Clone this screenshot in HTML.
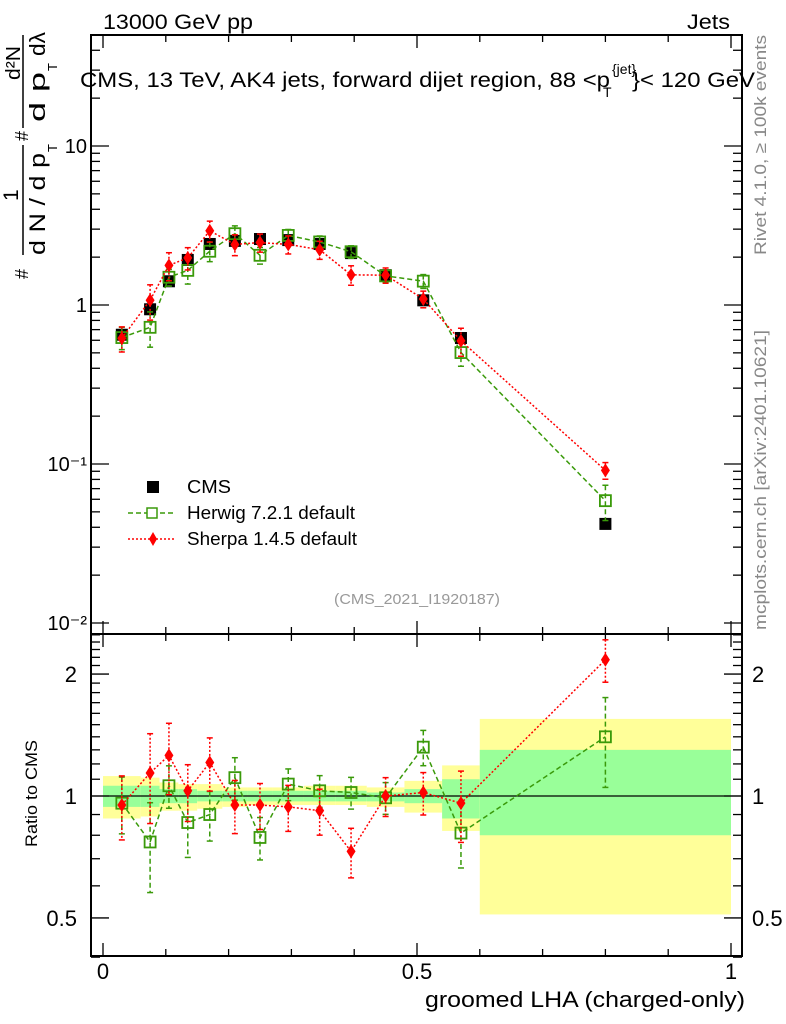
<!DOCTYPE html>
<html><head><meta charset="utf-8"><style>
body{margin:0;background:#fff}
svg{display:block;font-family:"Liberation Sans",sans-serif}
</style></head><body>
<svg id="chart" width="786" height="1024" viewBox="0 0 786 1024" xmlns="http://www.w3.org/2000/svg">
<g id="bands"></g>
<g id="axes"></g>
<g id="series"></g>
<text x="103" y="29" font-size="21" textLength="150" lengthAdjust="spacingAndGlyphs">13000 GeV pp</text>
<text x="687" y="29" font-size="21" textLength="43" lengthAdjust="spacingAndGlyphs">Jets</text>
<g>
<text x="80" y="87" font-size="21" textLength="530" lengthAdjust="spacingAndGlyphs">CMS, 13 TeV, AK4 jets, forward dijet region, 88 &lt;p</text>
<text x="603" y="97" font-size="14">T</text>
<text x="612" y="74" font-size="14">{jet}</text>
<text x="632" y="87" font-size="21" textLength="123" lengthAdjust="spacingAndGlyphs">}&lt; 120 GeV</text>
</g>
<text transform="translate(766,255) rotate(-90)" font-size="17" fill="#888" textLength="220" lengthAdjust="spacingAndGlyphs">Rivet 4.1.0, ≥ 100k events</text>
<text transform="translate(766,630) rotate(-90)" font-size="17" fill="#888" textLength="300" lengthAdjust="spacingAndGlyphs">mcplots.cern.ch [arXiv:2401.10621]</text>
<text x="334" y="604" font-size="15" fill="#999" textLength="166" lengthAdjust="spacingAndGlyphs">(CMS_2021_I1920187)</text>
<g>
<text transform="translate(28,279) rotate(-90)" font-size="18">#</text>
<text transform="translate(18,201) rotate(-90)" font-size="21">1</text>
<line x1="23" y1="255" x2="23" y2="145" stroke="#000" stroke-width="1.5"/>
<text transform="translate(45,255) rotate(-90)" font-size="22" textLength="102" lengthAdjust="spacingAndGlyphs">d N / d p</text>
<text transform="translate(57,152) rotate(-90)" font-size="13">T</text>
<text transform="translate(28,141) rotate(-90)" font-size="18">#</text>
<line x1="23" y1="128" x2="23" y2="35" stroke="#000" stroke-width="1.5"/>
<text transform="translate(20,80) rotate(-90)" font-size="20" textLength="34" lengthAdjust="spacingAndGlyphs">d²N</text>
<text transform="translate(45,122) rotate(-90)" font-size="22" textLength="50" lengthAdjust="spacingAndGlyphs">d p</text>
<text transform="translate(57,71) rotate(-90)" font-size="13">T</text>
<text transform="translate(45,56) rotate(-90)" font-size="22" textLength="24" lengthAdjust="spacingAndGlyphs">dλ</text>
</g>
<text transform="translate(37,847) rotate(-90)" font-size="17" textLength="107" lengthAdjust="spacingAndGlyphs">Ratio to CMS</text>
<text x="425" y="1007" font-size="22" textLength="320" lengthAdjust="spacingAndGlyphs">groomed LHA (charged-only)</text>
<g font-size="18">
<rect x="147" y="481" width="12" height="12" fill="#000"/>
<text x="187" y="493" textLength="44" lengthAdjust="spacingAndGlyphs">CMS</text>
<line x1="128" y1="513" x2="176" y2="513" stroke="#3a9a0a" stroke-width="1.5" stroke-dasharray="5,3"/>
<rect x="147" y="508" width="10" height="10" fill="#fff" stroke="#3a9a0a" stroke-width="1.5"/>
<text x="187" y="519" textLength="168" lengthAdjust="spacingAndGlyphs">Herwig 7.2.1 default</text>
<line x1="128" y1="539" x2="176" y2="539" stroke="#f00" stroke-width="1.5" stroke-dasharray="2,2"/>
<path d="M153,532 L157,539 L153,546 L149,539Z" fill="#f00"/>
<text x="187" y="545" textLength="170" lengthAdjust="spacingAndGlyphs">Sherpa 1.4.5 default</text>
</g>
</svg>
<script>
const xs=[0.03,0.075,0.105,0.135,0.17,0.21,0.25,0.295,0.345,0.395,0.45,0.51,0.57,0.8];
const binEdges=[0,0.06,0.09,0.12,0.15,0.19,0.23,0.27,0.32,0.37,0.42,0.48,0.54,0.6,1.0];
const cms=[0.65,0.94,1.41,1.92,2.42,2.53,2.6,2.56,2.42,2.12,1.54,1.07,0.62,0.042];
const herwigRatio=[0.96,0.77,1.06,0.86,0.90,1.11,0.79,1.07,1.03,1.02,0.99,1.32,0.81,1.40];
const sherpaRatio=[0.95,1.14,1.26,1.03,1.21,0.95,0.95,0.94,0.92,0.73,1.0,1.02,0.96,2.17];
const herwigErr=[0.16,0.25,0.12,0.18,0.14,0.12,0.12,0.09,0.09,0.09,0.09,0.10,0.18,0.25];
const sherpaErr=[0.18,0.25,0.20,0.16,0.15,0.15,0.13,0.13,0.13,0.14,0.11,0.12,0.20,0.12];
const yellowUp=[1.12,1.11,1.08,1.07,1.07,1.05,1.05,1.05,1.06,1.06,1.05,1.09,1.19,1.55];
const yellowDn=[0.88,0.89,0.92,0.92,0.93,0.94,0.95,0.95,0.95,0.95,0.94,0.91,0.82,0.51];
const greenUp=[1.06,1.06,1.04,1.04,1.03,1.03,1.03,1.03,1.03,1.03,1.02,1.04,1.10,1.30];
const greenDn=[0.94,0.94,0.96,0.96,0.97,0.97,0.97,0.97,0.97,0.97,0.97,0.96,0.88,0.80];
const mainTicks=[0.01,0.1,1,10];
const mainTickLabels=["10⁻²","10⁻¹","1","10"];
const ratioTicks=[0.5,1,2];
const ratioTickLabels=["0.5","1","2"];
const xTicks=[0,0.5,1];
const xTickLabels=["0","0.5","1"];

const NS="http://www.w3.org/2000/svg";
const L=91,R=742,T=35,MB=634,RB=956;
const X=v=>103+628*v;
const Y=v=>305-159*Math.log10(v);
const YR=v=>796-405*Math.log10(v);
function mk(parent,tag,attrs){const e=document.createElementNS(NS,tag);for(const k in attrs)e.setAttribute(k,attrs[k]);parent.appendChild(e);return e;}
const bands=document.getElementById('bands'),axes=document.getElementById('axes'),series=document.getElementById('series');

for(let i=0;i<xs.length;i++){
  const y=mk(bands,'rect',{x:X(binEdges[i]),y:YR(yellowUp[i]),width:X(binEdges[i+1])-X(binEdges[i]),height:YR(yellowDn[i])-YR(yellowUp[i]),fill:'#ffff99'});
  
  
  const g=mk(bands,'rect',{x:X(binEdges[i]),y:YR(greenUp[i]),width:X(binEdges[i+1])-X(binEdges[i]),height:YR(greenDn[i])-YR(greenUp[i]),fill:'#99ff99'});
  
  
}
mk(axes,'rect',{x:L,y:T,width:R-L,height:MB-T,fill:'none',stroke:'#000','stroke-width':2});
mk(axes,'rect',{x:L,y:MB,width:R-L,height:RB-MB,fill:'none',stroke:'#000','stroke-width':2});
mk(axes,'line',{x1:L,x2:R,y1:YR(1),y2:YR(1),stroke:'#000','stroke-width':1.3});
for(let d=-2;d<=1;d++){for(let m=1;m<10;m++){const v=m*Math.pow(10,d);const y=Y(v);if(y<T||y>MB)continue;const len=m==1?18:9;
 mk(axes,'line',{x1:L,x2:L+len,y1:y,y2:y,stroke:'#000','stroke-width':1.3});
 mk(axes,'line',{x1:R,x2:R-len,y1:y,y2:y,stroke:'#000','stroke-width':1.3});}}
mainTicks.forEach((v,i)=>{const t=mk(axes,'text',{x:L-4,y:Y(v)+7,'font-size':20,'text-anchor':'end'});t.textContent=mainTickLabels[i];
 
 });
for(let v=0.4;v<=2.51;v+=0.1){const y=YR(v);const maj=Math.abs(v-0.5)<1e-6||Math.abs(v-1)<1e-6||Math.abs(v-2)<1e-6;const len=maj?18:9;
 mk(axes,'line',{x1:L,x2:L+len,y1:y,y2:y,stroke:'#000','stroke-width':1.3});
 mk(axes,'line',{x1:R,x2:R-len,y1:y,y2:y,stroke:'#000','stroke-width':1.3});}
ratioTicks.forEach((v,i)=>{[[L-14,'end'],[R+10,'start']].forEach(([x,a])=>{const t=mk(axes,'text',{x:x,y:YR(v)+8,'font-size':22,'text-anchor':a});t.textContent=ratioTickLabels[i];
 
 });});
for(let k=0;k<=10;k++){const v=k/10,x=X(v);const len=(k%5==0)?13:7;
 [T,MB].forEach(y=>mk(axes,'line',{x1:x,x2:x,y1:y,y2:y+len,stroke:'#000','stroke-width':1.3}));
 [MB,RB].forEach(y=>mk(axes,'line',{x1:x,x2:x,y1:y,y2:y-len,stroke:'#000','stroke-width':1.3}));}
xTicks.forEach((v,i)=>{const t=mk(axes,'text',{x:X(v),y:979,'font-size':22,'text-anchor':'middle'});t.textContent=xTickLabels[i];
 
 });

function drawSeries(vals,errs,yf,color,dash,marker,name){
  const pts=vals.map((v,i)=>X(xs[i])+','+yf(v)).join(' ');
  const pl=mk(series,'polyline',{points:pts,fill:'none',stroke:color,'stroke-width':1.5,'stroke-dasharray':dash});
  
  
  vals.forEach((v,i)=>{const x=X(xs[i]);
    if(errs){const y1=yf(v*(1+errs[i])),y2=yf(v*(1-errs[i]));
      mk(series,'line',{x1:x,x2:x,y1:y1,y2:y2,stroke:color,'stroke-width':1.5,'stroke-dasharray':dash});
      mk(series,'line',{x1:x-3,x2:x+3,y1:y1,y2:y1,stroke:color,'stroke-width':1.5});
      mk(series,'line',{x1:x-3,x2:x+3,y1:y2,y2:y2,stroke:color,'stroke-width':1.5});}
    const y=yf(v);let m;
    if(marker=='osq')m=mk(series,'rect',{x:x-5.5,y:y-5.5,width:11,height:11,fill:'none',stroke:color,'stroke-width':1.8});
    else m=mk(series,'path',{d:`M${x},${y-7}L${x+4.5},${y}L${x},${y+7}L${x-4.5},${y}Z`,fill:color});
    
    });
}
const herwig=cms.map((c,i)=>c*herwigRatio[i]);
const sherpa=cms.map((c,i)=>c*sherpaRatio[i]);
cms.forEach((v,i)=>{const r=mk(series,'rect',{x:X(xs[i])-6,y:Y(v)-6,width:12,height:12,fill:'#000'});
 
 });
drawSeries(herwig,herwigErr,Y,'#3a9a0a','5,3','osq','herwig');
drawSeries(sherpa,sherpaErr,Y,'#f00','2,2','dia','sherpa');
drawSeries(herwigRatio,herwigErr,YR,'#3a9a0a','5,3','osq','herwig-ratio');
drawSeries(sherpaRatio,sherpaErr,YR,'#f00','2,2','dia','sherpa-ratio');
</script>
</body></html>
